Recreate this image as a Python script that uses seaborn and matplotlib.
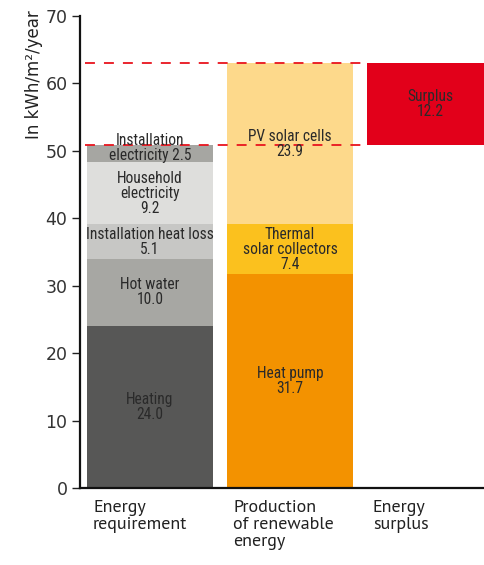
import seaborn as sns
import matplotlib.pyplot as plt

# categories on the x axis
categories = ["Energy\nrequirement", "Production\nof renewable\nenergy", "Energy\nsurplus"]

# segments of each stacked bar (bottom to top)
demand_labels = ["Heating", "Hot water", "Installation heat loss", "Household\nelectricity", "Installation\nelectricity"]
demand_values = [24.0, 10.0, 5.1, 9.2, 2.5]
demand_colors = ["#575756", "#a7a7a3", "#c7c7c5", "#dededc", "#a6a6a2"]

production_labels = ["Heat pump", "Thermal\nsolar collectors", "PV solar cells"]
production_values = [31.7, 7.4, 23.9]
production_colors = ["#f39200", "#fbc11e", "#fdd98b"]

surplus_label = "Surplus"
surplus_value = 12.2
surplus_color = "#e2001a"

yticks = [0, 10, 20, 30, 40, 50, 60, 70]

sns.set_theme(style="white")
plt.rcParams["font.family"] = ["DejaVu Sans"]
seg_font = ["Roboto Condensed", "DejaVu Sans"]
cat_font = ["PT Sans", "DejaVu Sans"]

fig = plt.figure(figsize=(4.84, 5.65), dpi=100)
ax = fig.add_axes([80 / 484, 1 - 488 / 565, 404 / 484, 472 / 565])


def stack(cat, labels, values, colors, start=0.0):
    bottom = start
    for lab, val, col in zip(labels, values, colors):
        sns.barplot(x=[cat], y=[val], order=categories, bottom=bottom, color=col,
                    saturation=1, width=0.9, linewidth=0, ax=ax)
        two_line = lab == "Installation\nelectricity"
        txt = lab + (" " if two_line else "\n") + f"{val:.1f}"
        # the small top segment's label pokes out above the bar
        ymid = bottom + val / 2 + (0.9 if two_line else 0)
        ax.text(categories.index(cat), ymid, txt, ha="center", va="center",
                fontsize=11.2, family=seg_font, color="#2a2a2a", linespacing=1.0, zorder=5)
        bottom += val
    return bottom


demand_total = stack(categories[0], demand_labels, demand_values, demand_colors)
prod_total = stack(categories[1], production_labels, production_values, production_colors)
stack(categories[2], [surplus_label], [surplus_value], [surplus_color], start=demand_total)

# dashed reference lines at the totals
dash = (0, (5.5, 5))
ax.axhline(prod_total, xmin=0.012, xmax=0.70, color="#e8141e", lw=1.3, ls=dash, zorder=4)
ax.axhline(demand_total, xmin=0.012, xmax=0.695, color="#e8141e", lw=1.3, ls=dash, zorder=4)

ax.set_xlim(-0.5, 2.386)
ax.set_ylim(0, 70)
ax.set_yticks(yticks)
ax.tick_params(axis="y", direction="out", length=6, width=1, color="#222",
               labelsize=12.5, labelcolor="#333", left=True, pad=3)

# category labels left-aligned under each bar
ax.set_xticks([i - 0.407 for i in range(len(categories))])
ax.set_xticklabels(categories, ha="left", fontsize=13, family=cat_font, color="#222", linespacing=1.08)
ax.tick_params(axis="x", length=0, pad=9)

ax.set_xlabel("")
ax.set_ylabel("In kWh/m²/year", fontsize=12, color="#222", loc="top")
ax.yaxis.set_label_coords(-0.092, 1.013)

for s in ["top", "right"]:
    ax.spines[s].set_visible(False)
for s in ["left", "bottom"]:
    ax.spines[s].set_color("#111")
    ax.spines[s].set_linewidth(1.6)

fig.savefig("out.png", dpi=100)
